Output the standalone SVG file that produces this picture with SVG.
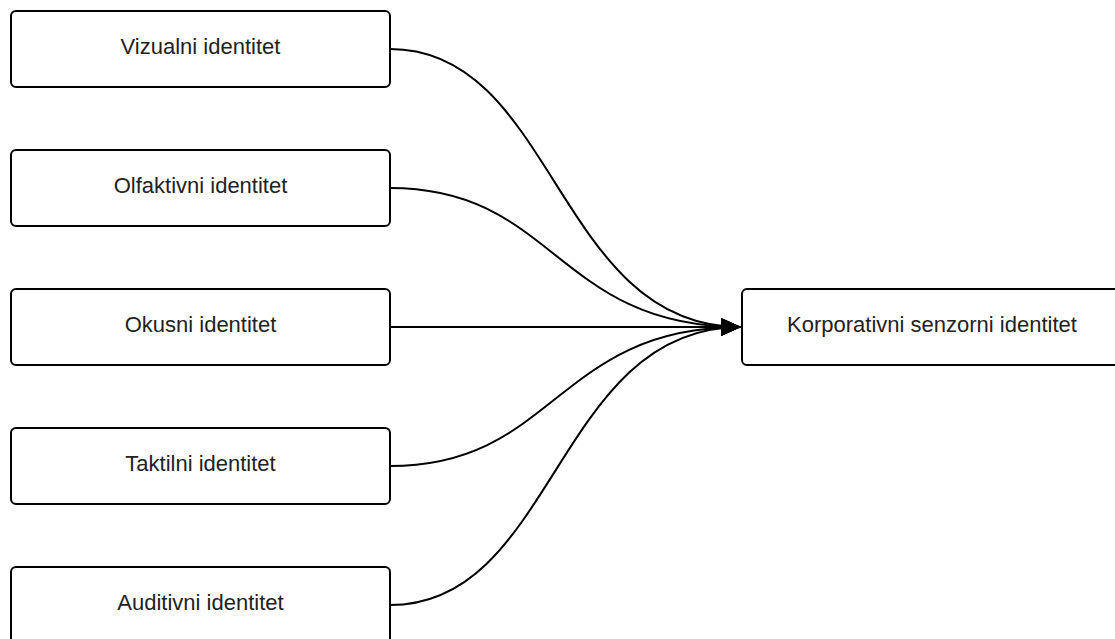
<svg xmlns="http://www.w3.org/2000/svg" width="1115" height="639" viewBox="0 0 1115 639">
<defs>
<style>
.box{fill:#fff;stroke:#000;stroke-width:2}
.lbl{font-family:"Liberation Sans",Arial,sans-serif;font-size:22px;fill:#222;text-anchor:middle}
.edge{fill:none;stroke:#000;stroke-width:2}
</style>
<marker id="arr" markerWidth="20" markerHeight="18" refX="20" refY="9" orient="auto" markerUnits="userSpaceOnUse">
<path d="M0,0 L20,9 L0,18 Z" fill="#000"/>
</marker>
</defs>
<rect width="1115" height="639" fill="#fff"/>
<g id="connectors">
<path class="edge" d="M390,49 C556,49 556,327 741,327" marker-end="url(#arr)"/>
<path class="edge" d="M390,188 C556,188 556,327 741,327" marker-end="url(#arr)"/>
<path class="edge" d="M390,327 L741,327" marker-end="url(#arr)"/>
<path class="edge" d="M390,466 C556,466 556,327 741,327" marker-end="url(#arr)"/>
<path class="edge" d="M390,605 C556,605 556,327 741,327" marker-end="url(#arr)"/>
</g>
<g id="n1"><rect class="box" x="11" y="11" width="379" height="76" rx="5"/><text class="lbl" x="200.5" y="53.5">Vizualni identitet</text></g>
<g id="n2"><rect class="box" x="11" y="150" width="379" height="76" rx="5"/><text class="lbl" x="200.5" y="192.5">Olfaktivni identitet</text></g>
<g id="n3"><rect class="box" x="11" y="289" width="379" height="76" rx="5"/><text class="lbl" x="200.5" y="331.5">Okusni identitet</text></g>
<g id="n4"><rect class="box" x="11" y="428" width="379" height="76" rx="5"/><text class="lbl" x="200.5" y="470.5">Taktilni identitet</text></g>
<g id="n5"><rect class="box" x="11" y="567" width="379" height="76" rx="5"/><text class="lbl" x="200.5" y="609.5">Auditivni identitet</text></g>
<g id="n6"><rect class="box" x="742" y="289" width="379" height="76" rx="5"/><text class="lbl" x="932" y="331.5">Korporativni senzorni identitet</text></g>
</svg>
